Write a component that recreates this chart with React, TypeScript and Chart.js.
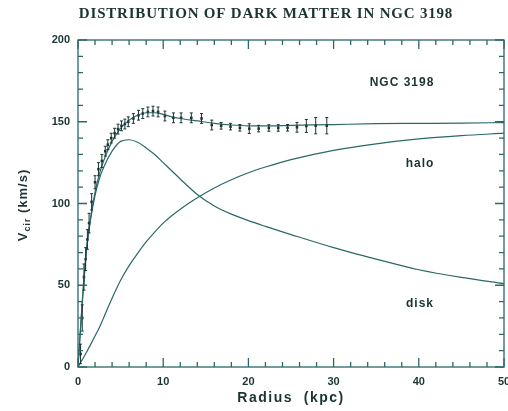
import { useEffect, useRef } from "react";
import { Chart, registerables } from "chart.js";

Chart.register(...registerables);

// ---- data ----
const titleText = "DISTRIBUTION OF DARK MATTER IN NGC 3198";
const xAxisTitle = "Radius  (kpc)";
const yAxisMain = "V";
const yAxisSub = "cir";
const yAxisUnit = " (km/s)";
const galaxyLabel = "NGC 3198";
const haloLabel = "halo";
const diskLabel = "disk";

const xTickLabels = [0, 10, 20, 30, 40, 50];
const yTickLabels = [0, 50, 100, 150, 200];

const obsRadius = [
  0.3, 0.5, 0.7, 0.9, 1.1, 1.3, 1.6, 2.0, 2.4, 2.8, 3.2, 3.5, 3.9, 4.3, 4.7, 5.1, 5.5, 5.9,
  6.5, 7.1, 7.6, 8.2, 8.8, 9.4, 10.2, 11.2, 12.1, 13.3, 14.5, 15.7, 16.8, 17.9, 19.0, 20.1,
  21.2, 22.4, 23.5, 24.6, 25.7, 26.8, 27.9, 29.2,
];
const obsVelocity = [
  8, 30, 55, 66, 78, 88, 101, 113, 121, 126, 132, 136, 140, 143, 145.5, 147.5, 148.6, 150,
  152, 154, 155, 156, 156.5, 156, 153.5, 152.4, 152.4, 152.4, 152, 148, 147.5, 147, 146.3, 145.8,
  145.8, 146.2, 146.2, 146.3, 146.6, 147.4, 147.6, 147.6,
];
const obsError = [
  6, 8, 8, 7, 6, 6, 5, 4, 4, 4, 3, 3, 3, 3, 3, 3, 3, 3,
  3, 3, 3, 3, 3, 3, 3, 3, 3, 3, 3, 3, 2, 2, 2, 3,
  2, 2, 2, 2, 3, 4, 5, 5,
];

const modelRadius = [
  0, 0.5, 1, 1.5, 2, 2.5, 3, 4, 5, 6, 7, 8, 9, 10, 11, 12, 14, 16, 18, 20, 22, 25, 30, 35, 40, 45, 50,
];
const totalVelocity = [
  0, 40, 72, 92, 107, 118, 126, 138, 146, 151, 154, 155.5, 155.5, 154.5, 153, 152, 150.5, 149,
  148, 147.5, 147.5, 147.8, 148.3, 148.8, 149, 149.2, 149.5,
];
const diskVelocity = [
  0, 39, 71, 91, 105, 115, 122, 132, 138, 139, 137.5, 134, 130, 125, 120, 115, 105.5, 98.5, 93.5, 89.5,
  86, 81, 73, 66, 59.5, 54.8, 51,
];
const haloVelocity = [
  0, 4.5, 9, 14, 19, 24, 30, 42, 53, 62, 69.5, 76.5, 82.5, 88, 92.5, 96.5, 103.5, 109.5, 114.5, 118.8, 122.3, 126.8,
  132.5, 136.5, 139.5, 141.5, 143,
];

const LINE = "#2b6868";
const INK = "#1b3333";

export default function App() {
  const ref = useRef<HTMLCanvasElement | null>(null);

  useEffect(() => {
    document.body.style.margin = "0";
    const canvas = ref.current;
    if (!canvas) return;

    const toPts = (ys: number[]) => modelRadius.map((r, i) => ({ x: r, y: ys[i] }));

    const decor = {
      id: "decor",
      afterDatasetsDraw(chart: any) {
        const { ctx, chartArea: a, scales } = chart;
        const xs = scales.x;
        const ys = scales.y;
        ctx.save();
        // error bars
        ctx.strokeStyle = INK;
        ctx.lineWidth = 1;
        obsRadius.forEach((r, i) => {
          const px = xs.getPixelForValue(r);
          const p1 = ys.getPixelForValue(obsVelocity[i] - obsError[i]);
          const p2 = ys.getPixelForValue(obsVelocity[i] + obsError[i]);
          ctx.beginPath();
          ctx.moveTo(px, p1);
          ctx.lineTo(px, p2);
          ctx.moveTo(px - 1.5, p1);
          ctx.lineTo(px + 1.5, p1);
          ctx.moveTo(px - 1.5, p2);
          ctx.lineTo(px + 1.5, p2);
          ctx.stroke();
        });
        // frame
        ctx.strokeStyle = LINE;
        ctx.lineWidth = 1.3;
        ctx.strokeRect(a.left, a.top, a.right - a.left, a.bottom - a.top);
        // inner ticks
        ctx.beginPath();
        for (let v = 0; v <= 50; v += 2) {
          const px = xs.getPixelForValue(v);
          const len = v % 10 === 0 ? 9 : 5;
          ctx.moveTo(px, a.bottom);
          ctx.lineTo(px, a.bottom - len);
          ctx.moveTo(px, a.top);
          ctx.lineTo(px, a.top + len);
        }
        for (let v = 0; v <= 200; v += 10) {
          const py = ys.getPixelForValue(v);
          const len = v % 50 === 0 ? 9 : 5;
          ctx.moveTo(a.left, py);
          ctx.lineTo(a.left + len, py);
          ctx.moveTo(a.right, py);
          ctx.lineTo(a.right - len, py);
        }
        ctx.stroke();

        // texts
        ctx.fillStyle = INK;
        ctx.textAlign = "center";
        ctx.textBaseline = "alphabetic";
        ctx.font = "bold 15px 'Liberation Serif'";
        (ctx as any).letterSpacing = "0.8px";
        ctx.fillText(titleText, 266, 18);

        ctx.font = "bold 14px 'Liberation Sans'";
        (ctx as any).letterSpacing = "1.5px";
        ctx.fillText(xAxisTitle, (a.left + a.right) / 2, 402);

        ctx.font = "bold 12px 'Liberation Sans'";
        (ctx as any).letterSpacing = "1px";
        ctx.fillText(galaxyLabel, 402, 86);
        ctx.fillText(haloLabel, 420, 167);
        ctx.fillText(diskLabel, 420, 307);

        // y axis title, rotated, with subscript
        ctx.save();
        ctx.translate(27, 205);
        ctx.rotate(-Math.PI / 2);
        ctx.textAlign = "left";
        (ctx as any).letterSpacing = "1px";
        const mainFont = "bold 13px 'Liberation Sans'";
        const subFont = "bold 9px 'Liberation Sans'";
        ctx.font = mainFont;
        const wV = ctx.measureText(yAxisMain).width;
        const wU = ctx.measureText(yAxisUnit).width;
        ctx.font = subFont;
        const wS = ctx.measureText(yAxisSub).width;
        const total = wV + wS + wU;
        let x0 = -total / 2;
        ctx.font = mainFont;
        ctx.fillText(yAxisMain, x0, 0);
        x0 += wV;
        ctx.font = subFont;
        ctx.fillText(yAxisSub, x0, 3);
        x0 += wS;
        ctx.font = mainFont;
        ctx.fillText(yAxisUnit, x0, 0);
        ctx.restore();

        ctx.restore();
      },
    };

    const chart = new Chart(canvas, {
      type: "scatter",
      data: {
        datasets: [
          {
            type: "line",
            label: "total",
            data: toPts(totalVelocity),
            borderColor: LINE,
            borderWidth: 1.2,
            pointRadius: 0,
            cubicInterpolationMode: "monotone",
            fill: false,
          },
          {
            type: "line",
            label: "disk",
            data: toPts(diskVelocity),
            borderColor: LINE,
            borderWidth: 1.2,
            pointRadius: 0,
            cubicInterpolationMode: "monotone",
            fill: false,
          },
          {
            type: "line",
            label: "halo",
            data: toPts(haloVelocity),
            borderColor: LINE,
            borderWidth: 1.2,
            pointRadius: 0,
            cubicInterpolationMode: "monotone",
            fill: false,
          },
          {
            label: "observed",
            data: obsRadius.map((r, i) => ({ x: r, y: obsVelocity[i] })),
            showLine: false,
            pointStyle: "rect",
            pointRadius: 1.8,
            backgroundColor: INK,
            borderColor: INK,
            borderWidth: 0,
          },
        ],
      } as any,
      options: {
        animation: false,
        responsive: false,
        maintainAspectRatio: false,
        layout: { padding: { top: 40, right: 3, left: 0, bottom: 0 } },
        plugins: {
          legend: { display: false },
          tooltip: { enabled: false },
          title: { display: false },
        },
        scales: {
          x: {
            type: "linear",
            min: 0,
            max: 50,
            grid: { display: false, drawTicks: false },
            border: { display: false },
            afterFit: (s: any) => {
              s.height = 44;
              s.paddingLeft = 0;
              s.paddingRight = 0;
            },
            afterBuildTicks: (s: any) => {
              s.ticks = xTickLabels.map((v) => ({ value: v }));
            },
            ticks: {
              padding: 8,
              color: INK,
              font: { family: "'Liberation Sans'", size: 11, weight: "bold" },
              maxRotation: 0,
            },
          },
          y: {
            type: "linear",
            min: 0,
            max: 200,
            grid: { display: false, drawTicks: false },
            border: { display: false },
            afterFit: (s: any) => {
              s.width = 78;
              s.paddingTop = 0;
              s.paddingBottom = 0;
            },
            afterBuildTicks: (s: any) => {
              s.ticks = yTickLabels.map((v) => ({ value: v }));
            },
            ticks: {
              padding: 8,
              color: INK,
              font: { family: "'Liberation Sans'", size: 11, weight: "bold" },
            },
          },
        },
      } as any,
      plugins: [decor],
    });

    return () => chart.destroy();
  }, []);

  return (
    <div style={{ width: 508, height: 411, background: "#fff" }}>
      <canvas ref={ref} width={508} height={411} style={{ display: "block" }} />
    </div>
  );
}
